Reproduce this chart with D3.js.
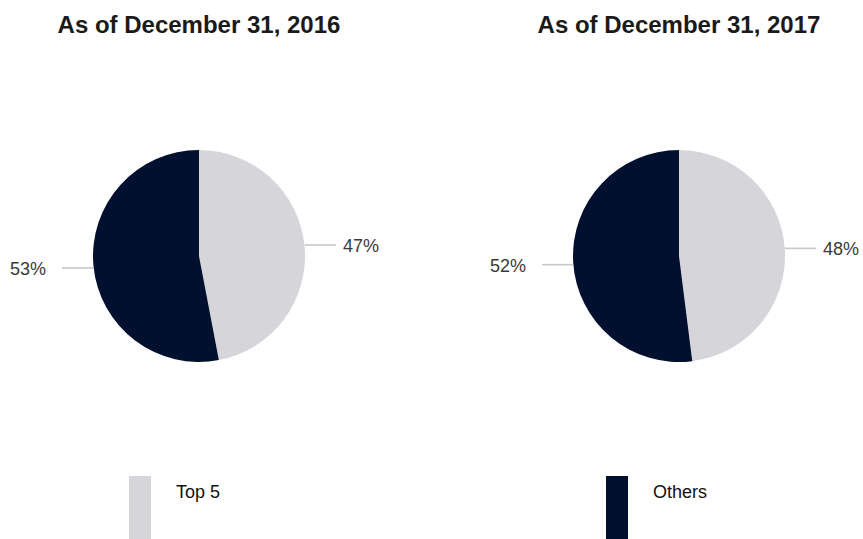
<!DOCTYPE html>
<html>
<head>
<meta charset="utf-8">
<script src="https://cdn.jsdelivr.net/npm/d3@7/dist/d3.min.js"></script>
<style>
  html, body { margin: 0; padding: 0; background: #fff; }
  svg { display: block; }
</style>
</head>
<body>
<svg id="chart" width="863" height="539"></svg>
<script>
// Share of total held by the five largest vs. everyone else
const titles = ["As of December 31, 2016", "As of December 31, 2017"];
const categories = ["Top 5", "Others"];
const top5Share = [47, 48];
const othersShare = [53, 52];
const colors = ["#d6d5da", "#00102e"];

const W = 863, H = 539;
const svg = d3.select("#chart");

const centers = [199, 679];
const cy = 256, radius = 106;

const color = d3.scaleOrdinal().domain(categories).range(colors);
const pie = d3.pie().sort(null).value(d => d.value);
const arc = d3.arc().innerRadius(0).outerRadius(radius);

titles.forEach((title, i) => {
  const g = svg.append("g").attr("transform", `translate(${centers[i]},${cy})`);
  const data = [
    { key: categories[0], value: top5Share[i] },
    { key: categories[1], value: othersShare[i] }
  ];
  const arcs = pie(data);

  g.selectAll("path.slice")
    .data(arcs)
    .join("path")
    .attr("class", "slice")
    .attr("d", arc)
    .attr("fill", d => color(d.data.key));

  // leader lines and percentage labels
  arcs.forEach(a => {
    const mid = (a.startAngle + a.endAngle) / 2;
    const px = Math.sin(mid) * radius;
    const py = -Math.cos(mid) * radius + (px > 0 ? -1 : 2);
    const right = px > 0;
    const x2 = right ? radius + 31 : -radius - 31;
    g.append("line")
      .attr("x1", px).attr("y1", py)
      .attr("x2", x2).attr("y2", py)
      .attr("stroke", "#c8c8c8")
      .attr("stroke-width", 1.6);
    g.append("text")
      .attr("x", right ? x2 + 7 : x2 - 16)
      .attr("y", py + 7)
      .attr("text-anchor", right ? "start" : "end")
      .attr("font-family", "Liberation Sans, Arial, sans-serif")
      .attr("font-size", 18)
      .attr("fill", "#3a3a3a")
      .text(a.data.value + "%");
  });

  svg.append("text")
    .attr("x", centers[i])
    .attr("y", 33)
    .attr("text-anchor", "middle")
    .attr("font-family", "Liberation Sans, Arial, sans-serif")
    .attr("font-weight", "bold")
    .attr("font-size", 24)
    .attr("fill", "#1a1a1a")
    .text(title);
});

// legend
const legendX = [129, 606];
categories.forEach((c, i) => {
  svg.append("rect")
    .attr("x", legendX[i]).attr("y", 476)
    .attr("width", 22).attr("height", 70)
    .attr("fill", color(c));
  svg.append("text")
    .attr("x", legendX[i] + 47)
    .attr("y", 498)
    .attr("font-family", "Liberation Sans, Arial, sans-serif")
    .attr("font-size", 18)
    .attr("fill", "#111")
    .text(c);
});
</script>
</body>
</html>
